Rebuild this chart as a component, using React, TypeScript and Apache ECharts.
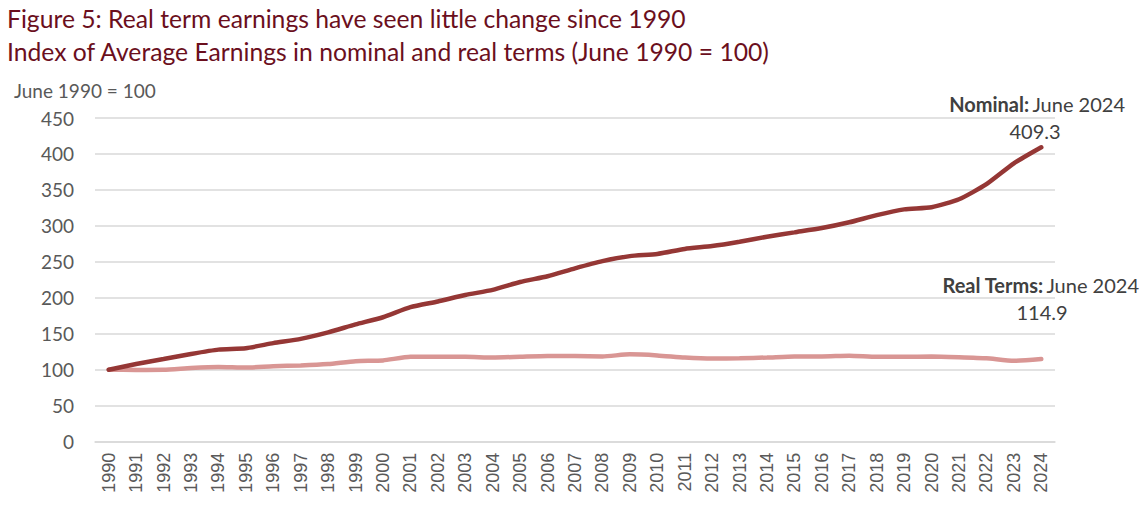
import React, { useEffect, useRef } from "react";
import * as echarts from "echarts";

const years: string[] = [];
for (let y = 1990; y <= 2024; y++) years.push(String(y));

const nominal = [100, 108, 115, 122, 128, 130, 137, 143, 152, 163, 173, 187, 195, 204, 211, 222, 230, 241, 251, 258, 261, 268, 272, 278, 285, 291, 297, 305, 315, 323, 326, 337, 358, 387, 409.3];
const real = [100, 99.8, 100, 102.5, 104, 103, 105, 106, 108, 112, 113, 118, 118, 118, 117, 118, 119, 119, 118.5, 121.5, 120, 117, 115.5, 116, 117, 118.5, 118.5, 119.5, 118, 118, 118.5, 117.5, 116, 112.5, 114.9];

const yTicks = { min: 0, max: 450, interval: 50 };

const TITLE = "Figure 5: Real term earnings have seen little change since 1990";
const SUBTITLE = "Index of Average Earnings in nominal and real terms (June 1990 = 100)";
const YNAME = "June 1990 = 100";
const PERIOD = "June 2024";

const HEAD_FONT = "Lato, 'Liberation Sans', sans-serif";
const BODY_FONT = "Lato, 'Liberation Sans', sans-serif";

export default function App() {
  const ref = useRef<HTMLDivElement>(null);
  useEffect(() => {
    if (!ref.current) return;
    const chart = echarts.init(ref.current, null, { renderer: "svg" });
    const lastNom = nominal[nominal.length - 1];
    const lastReal = real[real.length - 1];
    chart.setOption({
      animation: false,
      backgroundColor: "#ffffff",
      title: [
        { text: TITLE, left: 2, top: 1, textStyle: { fontFamily: HEAD_FONT, fontSize: 24.7, fontWeight: "normal", color: "#6b0f1d" } },
        { text: SUBTITLE, left: 2, top: 34, textStyle: { fontFamily: HEAD_FONT, fontSize: 24.7, fontWeight: "normal", color: "#6b0f1d" } },
        { text: YNAME, left: 9, top: 76, textStyle: { fontFamily: BODY_FONT, fontSize: 19, fontWeight: "normal", color: "#595959" } },
      ],
      grid: { left: 95, right: 93, top: 118, bottom: 65.3, containLabel: false },
      xAxis: {
        type: "category",
        data: years,
        boundaryGap: true,
        axisLine: { show: true, lineStyle: { color: "#d9d9d9", width: 1.5 } },
        axisTick: { show: false },
        axisLabel: { rotate: 90, interval: 0, margin: 11, fontFamily: "'Liberation Sans', Arial, sans-serif", fontSize: 18, color: "#595959" },
      },
      yAxis: {
        type: "value",
        min: yTicks.min,
        max: yTicks.max,
        interval: yTicks.interval,
        axisLine: { show: false },
        axisTick: { show: false },
        axisLabel: { margin: 21, fontFamily: BODY_FONT, fontSize: 19, color: "#595959" },
        splitLine: { lineStyle: { color: "#d9d9d9", width: 1.5 } },
      },
      series: [
        {
          name: "Real terms",
          type: "line",
          data: real,
          showSymbol: false,
          smooth: 0.2,
          lineStyle: { color: "#d99694", width: 4.5, cap: "round" },
          z: 2,
        },
        {
          name: "Nominal",
          type: "line",
          data: nominal,
          showSymbol: false,
          smooth: 0.2,
          lineStyle: { color: "#953735", width: 4.5, cap: "round" },
          z: 3,
        },
      ],
      graphic: [
        {
          type: "text",
          x: 1125,
          y: 104,
          style: {
            text: `{b|Nominal:} {n|${PERIOD}}`,
            align: "right",
            verticalAlign: "middle",
            rich: {
              b: { fontFamily: BODY_FONT, fontSize: 20, fontWeight: "bold", fill: "#404040" },
              n: { fontFamily: BODY_FONT, fontSize: 20, fill: "#404040" },
            },
          },
        },
        {
          type: "text",
          x: 1035,
          y: 131,
          style: { text: String(lastNom), align: "center", verticalAlign: "middle", fontFamily: BODY_FONT, fontSize: 20, fill: "#404040" },
        },
        {
          type: "text",
          x: 1139,
          y: 285,
          style: {
            text: `{b|Real Terms:} {n|${PERIOD}}`,
            align: "right",
            verticalAlign: "middle",
            rich: {
              b: { fontFamily: BODY_FONT, fontSize: 20, fontWeight: "bold", fill: "#404040" },
              n: { fontFamily: BODY_FONT, fontSize: 20, fill: "#404040" },
            },
          },
        },
        {
          type: "text",
          x: 1042,
          y: 312,
          style: { text: String(lastReal), align: "center", verticalAlign: "middle", fontFamily: BODY_FONT, fontSize: 20, fill: "#404040" },
        },
      ],
    });
    return () => chart.dispose();
  }, []);
  return <div ref={ref} style={{ position: "fixed", left: 0, top: 0, width: 1148, height: 507 }} />;
}
